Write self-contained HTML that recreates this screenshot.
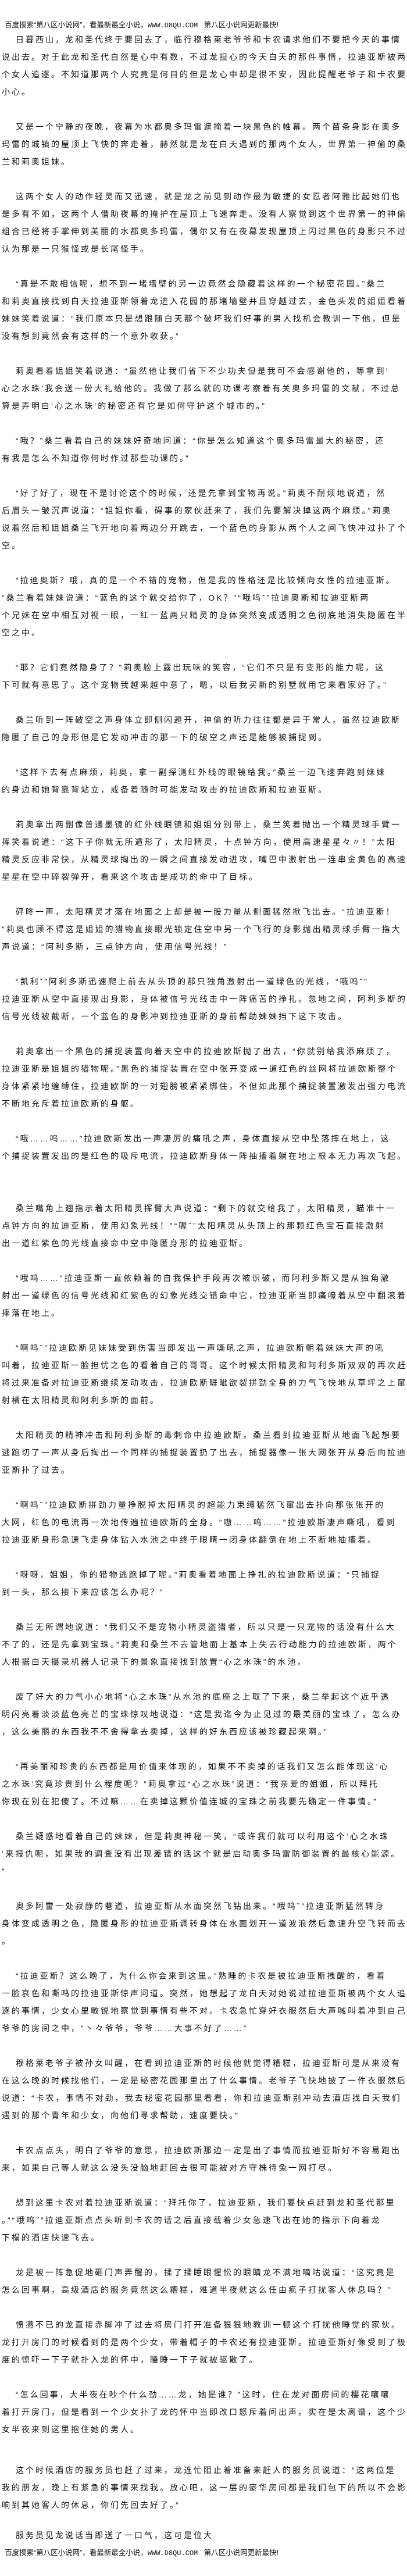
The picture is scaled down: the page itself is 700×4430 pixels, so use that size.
<!DOCTYPE html>
<html><head><meta charset="utf-8">
<style>
html,body{margin:0;padding:0;background:#fff;}
body{width:700px;height:4430px;position:relative;overflow:hidden;color:#111;
font-family:"Liberation Sans","WenQuanYi Zen Hei","Noto Sans CJK SC",sans-serif;}
.hd{position:absolute;left:8px;font-size:12.5px;line-height:26px;white-space:nowrap;}
.hd span{font-family:"Liberation Mono",monospace;font-size:12px;}
#b{position:absolute;left:3px;top:53px;width:697px;}
#b div,.ab div{height:30px;line-height:30px;font-size:14px;letter-spacing:3px;white-space:nowrap;}
#b div.i,.ab div.i{padding-left:24px;}
.ab{position:absolute;left:3px;width:697px;}
</style></head><body>
<div class="hd" style="top:30px">百度搜索“第八区小说网”，看最新最全小说，<span>WWW.D8QU.COM</span>&nbsp;&nbsp;&nbsp;第八区小说网更新最快!</div>
<div id="b">
<div class="i">日暮西山，龙和圣代终于要回去了，临行穆格莱老爷爷和卡农请求他们不要把今天的事情</div>
<div>说出去。对于此龙和圣代自然是心中有数，不过龙担心的今天白天的那件事情，拉迪亚斯被两</div>
<div>个女人追逐。不知道那两个人究竟是何目的但是龙心中却是很不安，因此提醒老爷子和卡农要</div>
<div>小心。</div>
<div></div>
<div class="i">又是一个宁静的夜晚，夜幕为水都奥多玛雷遮掩着一块黑色的帷幕。两个苗条身影在奥多</div>
<div>玛雷的城镇的屋顶上飞快的奔走着，赫然就是龙在白天遇到的那两个女人，世界第一神偷的桑</div>
<div>兰和莉奥姐妹。</div>
<div></div>
<div class="i">这两个女人的动作轻灵而又迅速，就是龙之前见到动作最为敏捷的女忍者阿雅比起她们也</div>
<div>是多有不如，这两个人借助夜幕的掩护在屋顶上飞速奔走。没有人察觉到这个世界第一的神偷</div>
<div>组合已经将手掌伸到美丽的水都奥多玛雷，偶尔又有在夜幕发现屋顶上闪过黑色的身影只不过</div>
<div>认为那是一只猴怪或是长尾怪手。</div>
<div></div>
<div class="i">“真是不敢相信呢，想不到一堵墙壁的另一边竟然会隐藏着这样的一个秘密花园。”桑兰</div>
<div>和莉奥直接找到白天拉迪亚斯领着龙进入花园的那堵墙壁并且穿越过去，金色头发的姐姐看着</div>
<div>妹妹笑着说道：“我们原本只是想跟随白天那个破坏我们好事的男人找机会教训一下他，但是</div>
<div>没有想到竟然会有这样的一个意外收获。”</div>
<div></div>
<div class="i">莉奥看着姐姐笑着说道：“虽然他让我们省下不少功夫但是我可不会感谢他的，等拿到‘</div>
<div>心之水珠’我会送一份大礼给他的。我做了那么就的功课考察着有关奥多玛雷的文献，不过总</div>
<div>算是弄明白‘心之水珠’的秘密还有它是如何守护这个城市的。”</div>
<div></div>
<div class="i">“哦？”桑兰看着自己的妹妹好奇地问道：“你是怎么知道这个奥多玛雷最大的秘密，还</div>
<div>有我是怎么不知道你何时作过那些功课的。”</div>
<div></div>
<div class="i">“好了好了，现在不是讨论这个的时候，还是先拿到宝物再说。”莉奥不耐烦地说道，然</div>
<div>后眉头一皱沉声说道：“姐姐你看，碍事的家伙赶来了，我们先要解决掉这两个麻烦。”莉奥</div>
<div>说着然后和姐姐桑兰飞开地向着两边分开跳去，一个蓝色的身影从两个人之间飞快冲过扑了个</div>
<div>空。</div>
<div></div>
<div class="i">“拉迪奥斯？哦，真的是一个不错的宠物，但是我的性格还是比较倾向女性的拉迪亚斯。</div>
<div>”桑兰看着妹妹说道：“蓝色的这个就交给你了，OK？”“哦呜ˇ”拉迪奥斯和拉迪亚斯两</div>
<div>个兄妹在空中相互对视一眼，一红一蓝两只精灵的身体突然变成透明之色彻底地消失隐匿在半</div>
<div>空之中。</div>
<div></div>
<div class="i">“耶？它们竟然隐身了？”莉奥脸上露出玩味的笑容，“它们不只是有变形的能力呢，这</div>
<div>下可就有意思了。这个宠物我越来越中意了，嗯，以后我买新的别墅就用它来看家好了。”</div>
<div></div>
<div class="i">桑兰听到一阵破空之声身体立即侧闪避开，神偷的听力往往都是异于常人，虽然拉迪欧斯</div>
<div>隐匿了自己的身形但是它发动冲击的那一下的破空之声还是能够被捕捉到。</div>
<div></div>
<div class="i">“这样下去有点麻烦，莉奥，拿一副探测红外线的眼镜给我。”桑兰一边飞速奔跑到妹妹</div>
<div>的身边和她背靠背站立，戒备着随时可能发动攻击的拉迪欧斯和拉迪亚斯。</div>
<div></div>
<div class="i">莉奥拿出两副像普通墨镜的红外线眼镜和姐姐分别带上，桑兰笑着抛出一个精灵球手臂一</div>
<div>挥笑着说道：“这下子你就无所遁形了，太阳精灵，十点钟方向，使用高速星星々〃！”太阳</div>
<div>精灵反应非常快，从精灵球掏出的一瞬之间直接发动进攻，嘴巴中激射出一连串金黄色的高速</div>
<div>星星在空中碎裂弹开，看来这个攻击是成功的命中了目标。</div>
<div></div>
<div class="i">砰咚一声，太阳精灵才落在地面之上却是被一股力量从侧面猛然掀飞出去。“拉迪亚斯！</div>
<div>”莉奥也顾不得这是姐姐的猎物直接眼光锁定住空中另一个飞行的身影抛出精灵球手臂一指大</div>
<div>声说道：“阿利多斯，三点钟方向，使用信号光线！”</div>
<div></div>
<div class="i">“凯利ˇ”阿利多斯迅速爬上前去从头顶的那只独角激射出一道绿色的光线，“哦呜ˇ”</div>
<div>拉迪亚斯从空中直接现出身影，身体被信号光线击中一阵痛苦的挣扎。忽地之间，阿利多斯的</div>
<div>信号光线被截断，一个蓝色的身影冲到拉迪亚斯的身前帮助妹妹挡下这下攻击。</div>
<div></div>
<div class="i">莉奥拿出一个黑色的捕捉装置向着天空中的拉迪欧斯抛了出去，“你就别给我添麻烦了，</div>
<div>拉迪亚斯是姐姐的猎物呢。”黑色的捕捉装置在空中张开变成一道红色的丝网将拉迪欧斯整个</div>
<div>身体紧紧地缠缚住，拉迪欧斯的一对翅膀被紧紧绑住，不但如此那个捕捉装置激发出强力电流</div>
<div>不断地充斥着拉迪欧斯的身躯。</div>
<div></div>
<div class="i">“哦……呜……”拉迪欧斯发出一声凄厉的痛吼之声，身体直接从空中坠落摔在地上，这</div>
<div>个捕捉装置发出的是红色的吸斥电流，拉迪欧斯身体一阵抽搐着躺在地上根本无力再次飞起。</div>
<div></div>
<div></div>
<div class="i">桑兰嘴角上翘指示着太阳精灵挥臂大声说道：“剩下的就交给我了，太阳精灵，瞄准十一</div>
<div>点钟方向的拉迪亚斯，使用幻象光线！”“喔ˇ”太阳精灵从头顶上的那颗红色宝石直接激射</div>
<div>出一道红紫色的光线直接命中空中隐匿身形的拉迪亚斯。</div>
<div></div>
<div class="i">“哦呜……”拉迪亚斯一直依赖着的自我保护手段再次被识破，而阿利多斯又是从独角激</div>
<div>射出一道绿色的信号光线和红紫色的幻象光线交错命中它，拉迪亚斯当即痛嚎着从空中翻滚着</div>
<div>摔落在地上。</div>
<div></div>
<div class="i">“啊呜ˇ”拉迪欧斯见妹妹受到伤害当即发出一声嘶吼之声，拉迪欧斯朝着妹妹大声的吼</div>
<div>叫着，拉迪亚斯一脸担忧之色的看着自己的哥哥。这个时候太阳精灵和阿利多斯双双的再次赶</div>
<div>将过来准备对拉迪亚斯继续发动攻击，拉迪欧斯睚眦欲裂拼劲全身的力气飞快地从草坪之上窜</div>
<div>射横在太阳精灵和阿利多斯的面前。</div>
<div></div>
<div class="i">太阳精灵的精神冲击和阿利多斯的毒刺命中拉迪欧斯，桑兰看到拉迪亚斯从地面飞起想要</div>
<div>逃跑切了一声从身后掏出一个同样的捕捉装置扔了出去，捕捉器像一张大网张开从身后向拉迪</div>
<div>亚斯扑了过去。</div>
<div></div>
<div class="i">“啊呜ˇ”拉迪欧斯拼劲力量挣脱掉太阳精灵的超能力束缚猛然飞窜出去扑向那张张开的</div>
<div>大网，红色的电流再一次地传遍拉迪欧斯的全身。“嗷……呜……”拉迪欧斯凄声嘶吼，看到</div>
<div>拉迪亚斯身形急速飞走身体钻入水池之中终于眼睛一闭身体翻倒在地上不断地抽搐着。</div>
<div></div>
<div class="i">“呀呀，姐姐，你的猎物逃跑掉了呢。”莉奥看着地面上挣扎的拉迪欧斯说道：“只捕捉</div>
<div>到一头，那么接下来应该怎么办呢？”</div>
<div></div>
<div class="i">桑兰无所谓地说道：“我们又不是宠物小精灵盗猎者，所以只是一只宠物的话没有什么大</div>
<div>不了的，还是先拿到宝珠。”莉奥和桑兰不去管地面上基本上失去行动能力的拉迪欧斯，两个</div>
<div>人根据白天摄录机器人记录下的景象直接找到放置“心之水珠”的水池。</div>
<div></div>
<div class="i">废了好大的力气小心地将“心之水珠”从水池的底座之上取了下来，桑兰举起这个近乎透</div>
<div>明闪亮着淡淡蓝色亮芒的宝珠惊叹地说道：“这是我迄今为止见过的最美丽的宝珠了，怎么办</div>
<div>，这么美丽的东西我不不舍得拿去卖掉，这样的好东西应该被珍藏起来啊。”</div>
<div></div>
<div class="i">“再美丽和珍贵的东西都是用价值来体现的，如果不不卖掉的话我们又怎么能体现这‘心</div>
<div>之水珠’究竟珍贵到什么程度呢？”莉奥拿过“心之水珠”说道：“我亲爱的姐姐，所以拜托</div>
<div>你现在别在犯傻了。不过嘛……在卖掉这颗价值连城的宝珠之前我要先确定一件事情。”</div>
<div></div>
<div class="i">桑兰疑惑地看着自己的妹妹，但是莉奥神秘一笑，“或许我们就可以利用这个‘心之水珠</div>
<div>’来报仇呢，如果我的调查没有出现差错的话这个就是启动奥多玛雷防御装置的最核心能源。</div>
<div>”</div>
<div></div>
<div class="i">奥多阿雷一处寂静的巷道，拉迪亚斯从水面突然飞钻出来。“哦呜ˇ”拉迪亚斯猛然转身</div>
<div>身体变成透明之色，隐匿身形的拉迪亚斯调转身体在水面划开一道波浪然后急速升空飞转而去</div>
<div>。</div>
<div></div>
<div class="i">“拉迪亚斯？这么晚了，为什么你会来到这里。”熟睡的卡农是被拉迪亚斯拽醒的，看着</div>
<div>一脸哀色和嘶鸣的拉迪亚斯惊声问道。突然，她想起了龙白天对她说过拉迪亚斯被两个女人追</div>
<div>逐的事情，少女心里敏锐地察觉到事情有些不对。卡农急忙穿好衣服然后大声喊叫着冲到自己</div>
<div>爷爷的房间之中，“丶々爷爷，爷爷……大事不好了……”</div>
<div></div>
<div class="i">穆格莱老爷子被孙女叫醒，在看到拉迪亚斯的时候他就觉得糟糕，拉迪亚斯可是从来没有</div>
<div>在这么晚的时候找他们，一定是秘密花园那里出了什么事情。老爷子飞快地披了一件衣服然后</div>
<div>说道：“卡农，事情不对劲，我去秘密花园那里看看，你和拉迪亚斯别冲动去酒店找白天我们</div>
<div>遇到的那个青年和少女，向他们寻求帮助，速度要快。”</div>
<div></div>
<div class="i">卡农点点头，明白了爷爷的意思，拉迪欧斯那边一定是出了事情而拉迪亚斯好不容易跑出</div>
<div>来，如果自己等人就这么没头没脑地赶回去很可能被对方守株待兔一网打尽。</div>
<div></div>
<div class="i">想到这里卡农对着拉迪亚斯说道：“拜托你了，拉迪亚斯，我们要快点赶到龙和圣代那里</div>
<div>。”“哦呜ˇ”拉迪亚斯点点头听到卡农的话之后直接载着少女急速飞出在她的指示下向着龙</div>
<div>下榻的酒店快速飞去。</div>
<div></div>
<div class="i">龙是被一阵急促地砸门声弄醒的，揉了揉睡眼惺忪的眼睛龙不满地嘀咕说道：“这究竟是</div>
<div>怎么回事啊，高级酒店的服务竟然这么糟糕，难道半夜就这么任由疯子打扰客人休息吗？”</div>
<div></div>
<div class="i">愤懑不已的龙直接赤脚冲了过去将房门打开准备狠狠地教训一顿这个打扰他睡觉的家伙。</div>
<div>龙打开房门的时候看到的是两个少女，带着帽子的卡农还有拉迪亚斯。拉迪亚斯好像受到了极</div>
<div>度的惊吓一下子就扑入龙的怀中，瞌睡一下子就被驱散了。</div>
<div></div>
<div class="i">“怎么回事，大半夜在吵个什么劲……龙，她是谁？”这时，住在龙对面房间的樱花嚷嚷</div>
<div>着打开房门，但是看到一个少女扑了龙的怀中当即改口怒斥着问出声。实在是太离谱，这个少</div>
<div>女半夜来到这里抱住她的男人。</div>
</div>
<div class="ab" style="top:4233px">
<div class="i">这个时候酒店的服务员也赶了过来，龙连忙阻止着准备来赶人的服务员说道：“这两位是</div>
<div>我的朋友，晚上有紧急的事情来找我。放心吧，这一层的豪华房间都是我们包下的所以不会影</div>
<div>响到其她客人的休息，你们先回去好了。”</div>
</div>
<div class="ab" style="top:4345px">
<div class="i">服务员见龙说话当即送了一口气，这可是位大</div>
</div>
<div class="hd" style="top:4377px">百度搜索“第八区小说网”，看最新最全小说，<span>WWW.D8QU.COM</span>&nbsp;&nbsp;&nbsp;第八区小说网更新最快!</div>
</body></html>
